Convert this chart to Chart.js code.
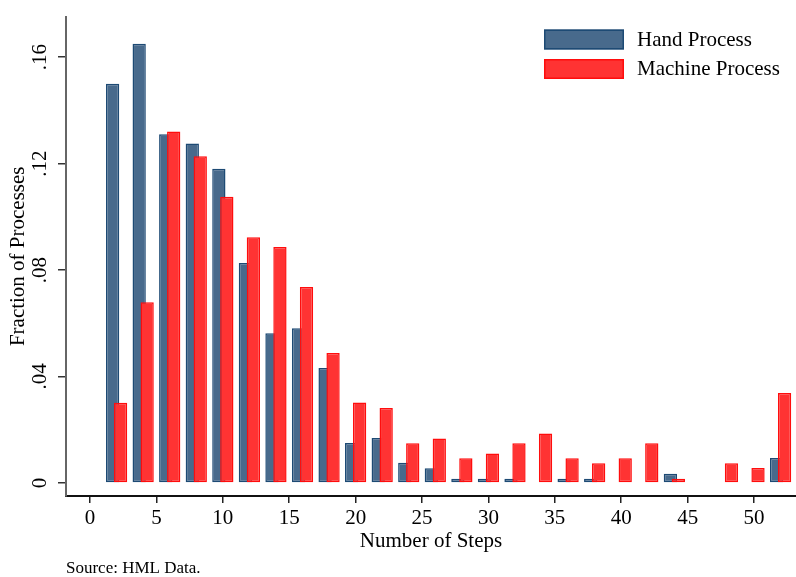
<!DOCTYPE html>
<html>
<head>
<meta charset="utf-8">
<title>Number of Steps: Hand vs Machine Process</title>
<script src="https://cdn.jsdelivr.net/npm/chart.js@4.4.1/dist/chart.umd.min.js"></script>
<style>
  html, body { margin: 0; padding: 0; background: #fff; }
  canvas { display: block; }
</style>
</head>
<body>
<canvas id="chart" width="796" height="577"></canvas>
<script>
// bins of two steps, labelled by their centre
const steps = [2, 4, 6, 8, 10, 12, 14, 16, 18, 20, 22, 24, 26, 28, 30, 32, 34, 36, 38, 40, 42, 44, 46, 48, 50, 52];
const handProcess = [0.150, 0.165, 0.131, 0.1275, 0.118, 0.0826, 0.0562, 0.0581, 0.0432, 0.0150, 0.0169, 0.0076, 0.0055,
                     0.0016, 0.0016, 0.0016, 0, 0.0016, 0.0016, 0, 0, 0.0035, 0, 0, 0, 0.0094];
const machineProcess = [0.0301, 0.0679, 0.1320, 0.1227, 0.1075, 0.0923, 0.0886, 0.0736, 0.0488, 0.0302, 0.0282, 0.0149, 0.0167,
                        0.0093, 0.0111, 0.0149, 0.0186, 0.0093, 0.0074, 0.0093, 0.0149, 0.0016, 0, 0.0074, 0.0056, 0.0338];
const seriesNames = ['Hand Process', 'Machine Process'];
const xTicks = [0, 5, 10, 15, 20, 25, 30, 35, 40, 45, 50];
const yTicks = [0, 0.04, 0.08, 0.12, 0.16];
const yTickLabels = ['0', '.04', '.08', '.12', '.16'];

const SERIF = "'Liberation Serif', 'Times New Roman', serif";
Chart.defaults.font.family = SERIF;
Chart.defaults.color = '#000';

// stata draws the machine bars over the hand bars
const machineOnTop = {
  id: 'machineOnTop',
  beforeDatasetDraw(chart, args) {
    if (args.index === 1) return false;
  },
  afterDatasetsDraw(chart) {
    chart.getDatasetMeta(1).controller.draw();
  }
};

// legend sits inside the plot region, top right
const boxLegend = {
  id: 'boxLegend',
  afterDraw(chart) {
    const ctx = chart.ctx;
    const x = chart.chartArea.right - 252;
    let y = 29.5;
    ctx.save();
    ctx.font = '21px ' + SERIF;
    ctx.textBaseline = 'middle';
    chart.data.datasets.forEach(ds => {
      ctx.fillStyle = ds.backgroundColor;
      ctx.fillRect(x, y, 80, 20);
      ctx.strokeStyle = ds.borderColor;
      ctx.lineWidth = 1.5;
      ctx.strokeRect(x + 0.75, y + 0.75, 78.5, 18.5);
      ctx.fillStyle = '#000';
      ctx.fillText(ds.label, x + 93, y + 10.5);
      y += 29.5;
    });
    ctx.restore();
  }
};

new Chart(document.getElementById('chart'), {
  type: 'bar',
  data: {
    labels: steps,
    datasets: [
      {
        label: seriesNames[0],
        data: handProcess,
        backgroundColor: '#486a8c',
        borderColor: '#1d4a74',
        borderWidth: 1.5,
        borderSkipped: false
      },
      {
        label: seriesNames[1],
        data: machineProcess,
        backgroundColor: '#ff3333',
        borderColor: '#ff0d0d',
        borderWidth: 1.5,
        borderSkipped: false
      }
    ]
  },
  options: {
    responsive: false,
    animation: false,
    categoryPercentage: 0.6,
    barPercentage: 1.667,
    layout: { padding: { top: 11, left: 0, right: 0, bottom: 0 } },
    plugins: {
      legend: { display: false },
      tooltip: { enabled: false },
      subtitle: {
        display: true,
        text: 'Source: HML Data.',
        position: 'bottom',
        align: 'start',
        fullSize: false,
        font: { size: 17, lineHeight: 1 },
        color: '#000',
        padding: { top: 0, bottom: 0 }
      }
    },
    scales: {
      x: {
        type: 'linear',
        offset: false,
        min: -1.81,
        max: 53.16,
        afterBuildTicks: s => { s.ticks = xTicks.map(v => ({ value: v })); },
        afterFit: s => { s.height = 64; },
        grid: { offset: false, drawOnChartArea: false, tickLength: 7, color: '#222', lineWidth: 1.5 },
        border: { color: '#111', width: 2 },
        ticks: { font: { size: 21 }, padding: 3, maxRotation: 0, color: '#000' },
        title: { display: true, text: 'Number of Steps', font: { size: 21 }, padding: { top: 0, bottom: 6 }, color: '#000' }
      },
      y: {
        min: -0.0049,
        max: 0.1752,
        afterBuildTicks: s => { s.ticks = yTicks.map(v => ({ value: v })); },
        afterFit: s => { s.width = 66; },
        grid: { drawOnChartArea: false, tickLength: 8, color: '#333', lineWidth: 1.5 },
        border: { color: '#666', width: 2 },
        ticks: {
          font: { size: 21 },
          padding: 4,
          minRotation: 90,
          maxRotation: 90,
          crossAlign: 'center',
          color: '#000',
          callback: v => yTickLabels[yTicks.indexOf(v)]
        },
        title: { display: true, text: 'Fraction of Processes', font: { size: 21 }, padding: { top: 6, bottom: 0 }, color: '#000' }
      }
    }
  },
  plugins: [machineOnTop, boxLegend]
});
</script>
</body>
</html>
